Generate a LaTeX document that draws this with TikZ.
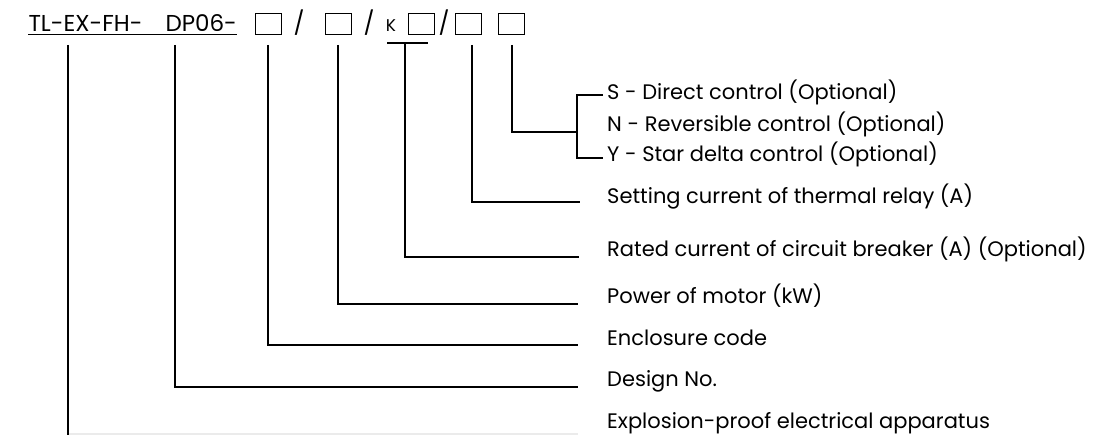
\documentclass[tikz,border=0pt]{standalone}
\usepackage{fontspec}
\setmainfont{Poppins}
\begin{document}
\begin{tikzpicture}[x=1pt,y=-1pt,
  lbl/.style={anchor=base west, inner sep=0pt, font=\fontsize{21}{24}\selectfont},
  hdr/.style={inner sep=0pt, font=\fontsize{23}{27}\selectfont},
  codebox/.style={draw, line width=1.8pt, minimum width=26pt, minimum height=21pt, inner sep=0pt},
  conn/.style={line width=1.6pt},
  faint/.style={line width=1.2pt, draw=black!8}]
\useasboundingbox (0,0) rectangle (1093,435);
% header
\node[hdr, anchor=base east] (code) at (237,32) {TL-EX-FH-\hspace{1em}DP06-};
\draw[line width=1.2pt] ([yshift=-2.5pt]code.base west) -- ([yshift=-2.5pt]code.base east);
\node[codebox] (b1) at (268.5,24) {};
\node[hdr, anchor=base] (s1) at (299,32) {/};
\node[codebox] (b2) at (338.5,24) {};
\node[hdr, anchor=base] (s2) at (369,32) {/};
\node[hdr, anchor=base, font=\fontsize{17}{20}\selectfont] (k) at (391,32) {K};
\node[codebox] (b3) at (421.5,24) {};
\node[hdr, anchor=base] (s3) at (444,32) {/};
\node[codebox] (b4) at (468.5,24) {};
\node[codebox] (b5) at (511.5,24) {};
% labels
\node[lbl] (lS) at (607,100) {S - Direct control (Optional)};
\node[lbl] (lN) at (607,132) {N - Reversible control (Optional)};
\node[lbl] (lY) at (607,162) {Y - Star delta control (Optional)};
\node[lbl] (lT) at (607,204) {Setting current of thermal relay (A)};
\node[lbl] (lR) at (607,257) {Rated current of circuit breaker (A) (Optional)};
\node[lbl] (lP) at (607,304) {Power of motor (kW)};
\node[lbl] (lE) at (607,346) {Enclosure code};
\node[lbl] (lD) at (607,387) {Design No.};
\node[lbl] (lX) at (607,429) {Explosion-proof electrical apparatus};
% tick tops
\coordinate (t0) at (68,45);
\coordinate (t1) at (175,45);
\coordinate (t2) at (268,45);
\coordinate (t3) at (338,45);
\coordinate (t4) at (405,43);
\coordinate (t5) at (472,45);
\coordinate (t6) at (512,45);
\coordinate (tbL) at (387,43);
\coordinate (tbR) at (428,43);
% line ends
\coordinate (eT) at (580,202);
\coordinate (eR) at (579,257);
\coordinate (eP) at (578,304);
\coordinate (eE) at (578,345);
\coordinate (eD) at (578,387);
\coordinate (eX) at (578,434);
\coordinate (bt) at (603,95);
\coordinate (bb) at (603,158);
\coordinate (bm) at (577,132);
% connectors
\draw[conn] (bt) -- (577,95) -- (577,158) -- (bb);
\draw[conn] (t6) |- (bm);
\draw[conn] (t5) |- (eT);
\draw[conn] (tbL) -- (tbR);
\draw[conn] (t4) |- (eR);
\draw[conn] (t3) |- (eP);
\draw[conn] (t2) |- (eE);
\draw[conn] (t1) |- (eD);
\draw[conn] (t0) -- (68,435);
\draw[faint] (69,434) -- (eX);
\end{tikzpicture}
\end{document}
